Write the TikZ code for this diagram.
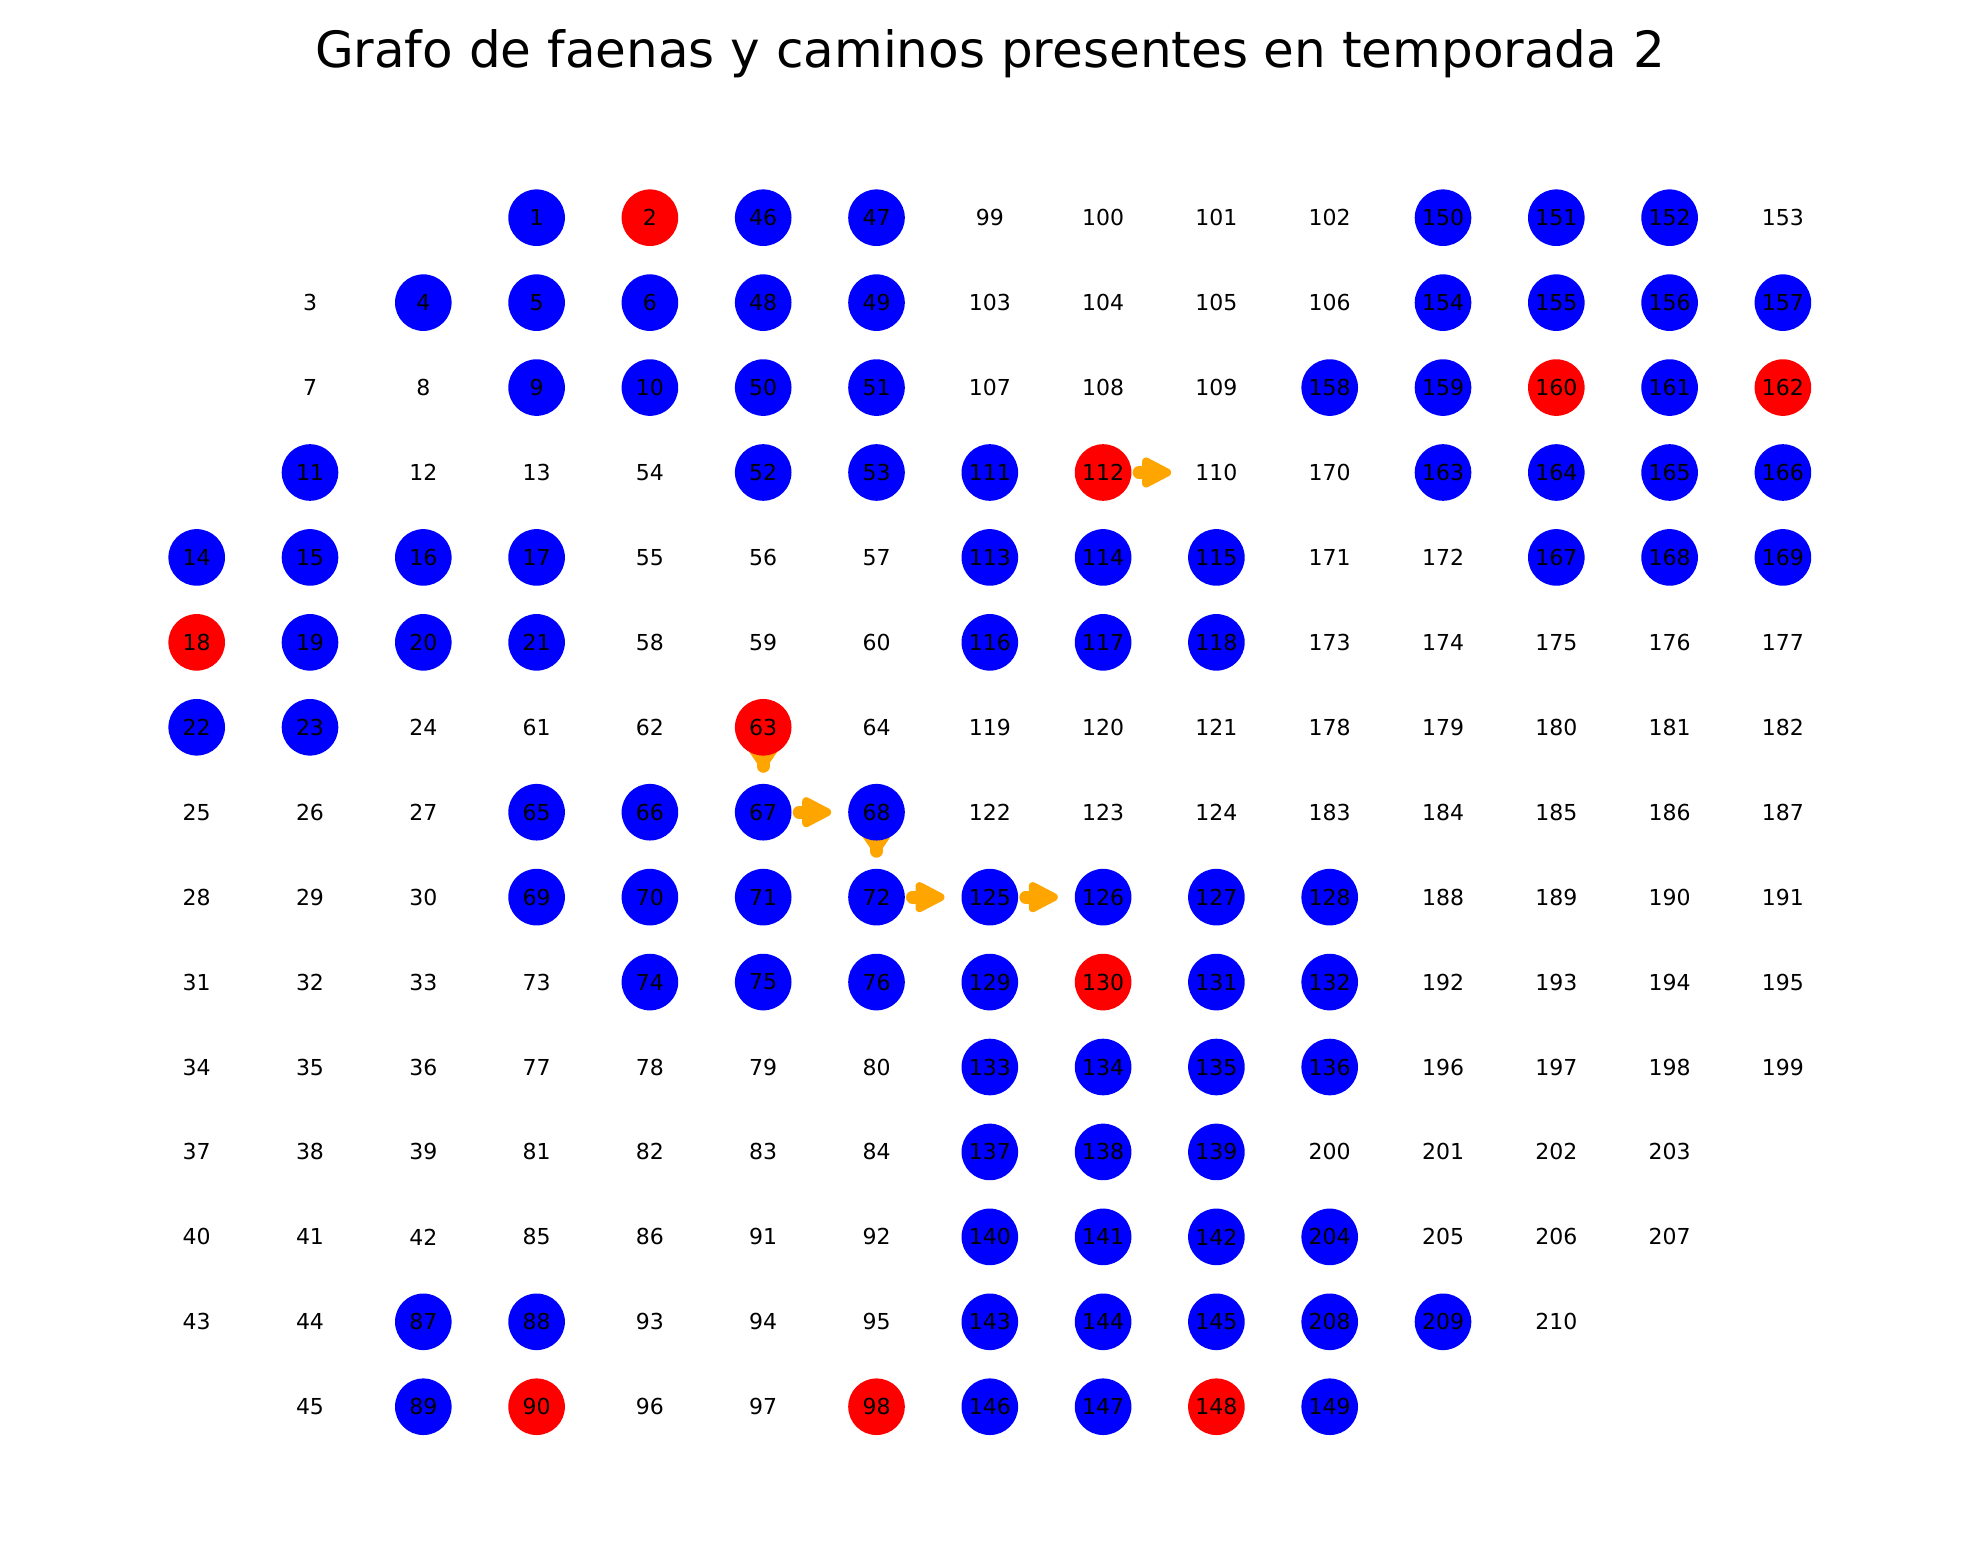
\documentclass[tikz,border=0pt]{standalone}
\usepackage{fontspec}
\setmainfont{DejaVu Sans}
\usetikzlibrary{backgrounds}
\definecolor{nblue}{RGB}{0,0,255}
\definecolor{nred}{RGB}{255,0,0}
\definecolor{narrow}{RGB}{255,165,0}
\tikzset{
  lbl/.style={font=\fontsize{11}{13}\selectfont, text=black, inner sep=0pt},
  bnode/.style={lbl, circle, fill=nblue, minimum size=28.3pt},
  rnode/.style={lbl, circle, fill=nred, minimum size=28.3pt},
  pnode/.style={lbl},
  stem/.style={draw=narrow, line width=6.5pt, line cap=round},
  headtri/.style={fill=narrow, draw=narrow, line width=4pt, line join=round}
}
\newcommand{\harrow}[1]{%
  \draw[stem] ([xshift=18pt]#1.center) -- ([xshift=22.5pt]#1.center);
  \filldraw[headtri] ([shift={(21.5pt,5.5pt)}]#1.center) -- ([shift={(21.5pt,-5.5pt)}]#1.center) -- ([xshift=32pt]#1.center) -- cycle;}
\newcommand{\vstub}[1]{%
  \draw[stem] ([yshift=-11pt]#1.center) -- ([yshift=-19.5pt]#1.center);
  \fill[narrow] ([shift={(-7.2pt,-12pt)}]#1.center) -- ([shift={(7.2pt,-12pt)}]#1.center) -- ([shift={(3.25pt,-17.8pt)}]#1.center) -- ([shift={(-3.25pt,-17.8pt)}]#1.center) -- cycle;}
\begin{document}
\begin{tikzpicture}[x=0.5pt,y=-0.5pt]
\useasboundingbox (0,0) rectangle (1980,1563);
\node[anchor=base, inner sep=0pt, font=\fontsize{25}{30}\selectfont] (title) at (990,67.7) {Grafo de faenas y caminos presentes en temporada 2};
\foreach \c/\r/\n/\s in {
3/0/1/bnode, 4/0/2/rnode, 5/0/46/bnode, 6/0/47/bnode, 7/0/99/pnode, 8/0/100/pnode, 9/0/101/pnode, 10/0/102/pnode, 11/0/150/bnode, 12/0/151/bnode, 13/0/152/bnode, 14/0/153/pnode,
1/1/3/pnode, 2/1/4/bnode, 3/1/5/bnode, 4/1/6/bnode, 5/1/48/bnode, 6/1/49/bnode, 7/1/103/pnode, 8/1/104/pnode, 9/1/105/pnode, 10/1/106/pnode, 11/1/154/bnode, 12/1/155/bnode, 13/1/156/bnode, 14/1/157/bnode,
1/2/7/pnode, 2/2/8/pnode, 3/2/9/bnode, 4/2/10/bnode, 5/2/50/bnode, 6/2/51/bnode, 7/2/107/pnode, 8/2/108/pnode, 9/2/109/pnode, 10/2/158/bnode, 11/2/159/bnode, 12/2/160/rnode, 13/2/161/bnode, 14/2/162/rnode,
1/3/11/bnode, 2/3/12/pnode, 3/3/13/pnode, 4/3/54/pnode, 5/3/52/bnode, 6/3/53/bnode, 7/3/111/bnode, 8/3/112/rnode, 9/3/110/pnode, 10/3/170/pnode, 11/3/163/bnode, 12/3/164/bnode, 13/3/165/bnode, 14/3/166/bnode,
0/4/14/bnode, 1/4/15/bnode, 2/4/16/bnode, 3/4/17/bnode, 4/4/55/pnode, 5/4/56/pnode, 6/4/57/pnode, 7/4/113/bnode, 8/4/114/bnode, 9/4/115/bnode, 10/4/171/pnode, 11/4/172/pnode, 12/4/167/bnode, 13/4/168/bnode, 14/4/169/bnode,
0/5/18/rnode, 1/5/19/bnode, 2/5/20/bnode, 3/5/21/bnode, 4/5/58/pnode, 5/5/59/pnode, 6/5/60/pnode, 7/5/116/bnode, 8/5/117/bnode, 9/5/118/bnode, 10/5/173/pnode, 11/5/174/pnode, 12/5/175/pnode, 13/5/176/pnode, 14/5/177/pnode,
0/6/22/bnode, 1/6/23/bnode, 2/6/24/pnode, 3/6/61/pnode, 4/6/62/pnode, 5/6/63/rnode, 6/6/64/pnode, 7/6/119/pnode, 8/6/120/pnode, 9/6/121/pnode, 10/6/178/pnode, 11/6/179/pnode, 12/6/180/pnode, 13/6/181/pnode, 14/6/182/pnode,
0/7/25/pnode, 1/7/26/pnode, 2/7/27/pnode, 3/7/65/bnode, 4/7/66/bnode, 5/7/67/bnode, 6/7/68/bnode, 7/7/122/pnode, 8/7/123/pnode, 9/7/124/pnode, 10/7/183/pnode, 11/7/184/pnode, 12/7/185/pnode, 13/7/186/pnode, 14/7/187/pnode,
0/8/28/pnode, 1/8/29/pnode, 2/8/30/pnode, 3/8/69/bnode, 4/8/70/bnode, 5/8/71/bnode, 6/8/72/bnode, 7/8/125/bnode, 8/8/126/bnode, 9/8/127/bnode, 10/8/128/bnode, 11/8/188/pnode, 12/8/189/pnode, 13/8/190/pnode, 14/8/191/pnode,
0/9/31/pnode, 1/9/32/pnode, 2/9/33/pnode, 3/9/73/pnode, 4/9/74/bnode, 5/9/75/bnode, 6/9/76/bnode, 7/9/129/bnode, 8/9/130/rnode, 9/9/131/bnode, 10/9/132/bnode, 11/9/192/pnode, 12/9/193/pnode, 13/9/194/pnode, 14/9/195/pnode,
0/10/34/pnode, 1/10/35/pnode, 2/10/36/pnode, 3/10/77/pnode, 4/10/78/pnode, 5/10/79/pnode, 6/10/80/pnode, 7/10/133/bnode, 8/10/134/bnode, 9/10/135/bnode, 10/10/136/bnode, 11/10/196/pnode, 12/10/197/pnode, 13/10/198/pnode, 14/10/199/pnode,
0/11/37/pnode, 1/11/38/pnode, 2/11/39/pnode, 3/11/81/pnode, 4/11/82/pnode, 5/11/83/pnode, 6/11/84/pnode, 7/11/137/bnode, 8/11/138/bnode, 9/11/139/bnode, 10/11/200/pnode, 11/11/201/pnode, 12/11/202/pnode, 13/11/203/pnode,
0/12/40/pnode, 1/12/41/pnode, 2/12/42/pnode, 3/12/85/pnode, 4/12/86/pnode, 5/12/91/pnode, 6/12/92/pnode, 7/12/140/bnode, 8/12/141/bnode, 9/12/142/bnode, 10/12/204/bnode, 11/12/205/pnode, 12/12/206/pnode, 13/12/207/pnode,
0/13/43/pnode, 1/13/44/pnode, 2/13/87/bnode, 3/13/88/bnode, 4/13/93/pnode, 5/13/94/pnode, 6/13/95/pnode, 7/13/143/bnode, 8/13/144/bnode, 9/13/145/bnode, 10/13/208/bnode, 11/13/209/bnode, 12/13/210/pnode,
1/14/45/pnode, 2/14/89/bnode, 3/14/90/rnode, 4/14/96/pnode, 5/14/97/pnode, 6/14/98/rnode, 7/14/146/bnode, 8/14/147/bnode, 9/14/148/rnode, 10/14/149/bnode}
  \node[\s] (n\n) at ({196.7+113.3*\c},{217.7+84.93*\r}) {\n};
\begin{scope}[on background layer]
  \harrow{n112}
  \harrow{n67}
  \harrow{n72}
  \harrow{n125}
  \vstub{n63}
  \vstub{n68}
\end{scope}
\end{tikzpicture}
\end{document}
